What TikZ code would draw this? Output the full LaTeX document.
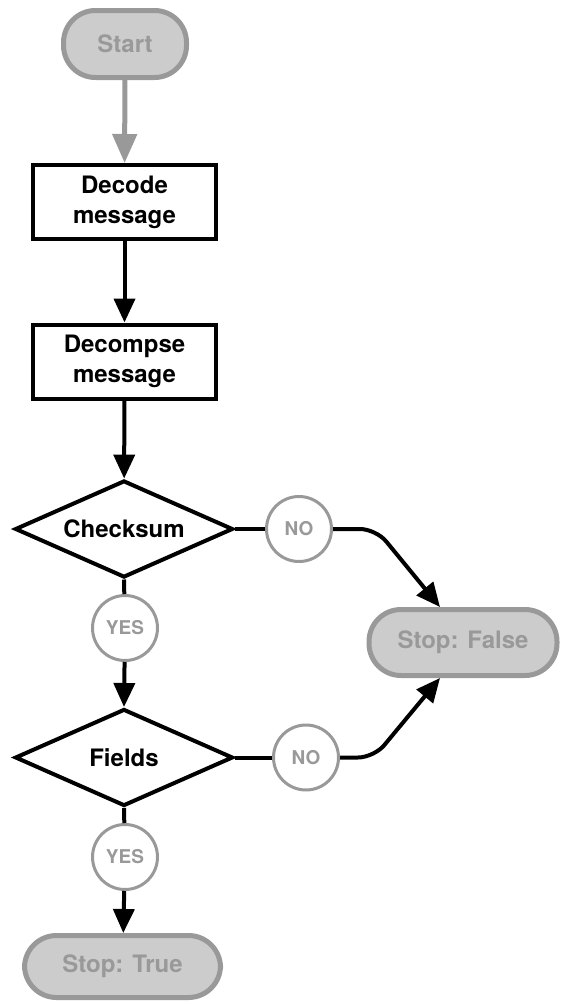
\documentclass[tikz,border=0pt]{standalone}
\usepackage{fontspec}
\setmainfont{TeX Gyre Heros}
\usetikzlibrary{shapes.geometric,arrows.meta,calc}

\definecolor{edgegray}{HTML}{999999}
\definecolor{fillgray}{HTML}{CCCCCC}

\begin{document}
\begin{tikzpicture}[x=1pt,y=-1pt,
  font=\bfseries,
  terminal/.style={draw=edgegray, fill=fillgray, line width=5pt,
    text=edgegray, rounded corners=32pt, inner sep=0pt,
    font=\fontsize{24}{29}\selectfont\bfseries},
  process/.style={draw=black, fill=white, line width=4pt, inner sep=0pt,
    minimum width=183pt, minimum height=74pt, align=center,
    font=\fontsize{24}{30}\selectfont\bfseries},
  decision/.style={draw=black, fill=white, diamond, line width=4pt,
    inner sep=0pt, aspect=2.25, minimum width=218pt, minimum height=97pt,
    font=\fontsize{24}{30}\selectfont\bfseries},
  answer/.style={circle, draw=edgegray, fill=white, line width=3pt,
    text=edgegray, inner sep=0pt, minimum size=65pt,
    font=\fontsize{19}{22}\selectfont\bfseries},
  flow/.style={line width=4pt, draw=black},
  flowarrow/.style={flow, -{Triangle[length=24pt,width=21pt]}},
  startarrow/.style={line width=5pt, draw=edgegray,
    -{Triangle[length=29pt,width=24pt]}},
]
\useasboundingbox (0,0) rectangle (563,1004);

% nodes
\node[terminal, minimum width=123pt, minimum height=67pt] (start) at (125,44) {Start};
\node[process] (decode) at (124.5,202) {Decode\\message};
\node[process] (decompose) at (124.5,361.5) {Decompse\\message};
\node[decision] (checksum) at (124,529) {Checksum};
\node[answer] (no1) at (299,529) {NO};
\node[answer] (yes1) at (125,628) {YES};
\node[decision] (fields) at (124,757.5) {Fields};
\node[answer] (no2) at (306,757.5) {NO};
\node[answer] (yes2) at (125,857) {YES};
\node[terminal, minimum width=188pt, minimum height=66pt] (stopfalse) at (463,642.5) {Stop: False};
\node[terminal, minimum width=196pt, minimum height=62pt] (stoptrue) at (122.5,966.5) {Stop: True};

% connectors
\draw[startarrow] (start) -- (decode);
\draw[flowarrow] (decode) -- (decompose);
\draw[flowarrow] (decompose) -- (checksum);
\draw[flow] (checksum.east) -- (no1);
\draw[flow] (checksum.south) -- (yes1);
\draw[flowarrow] (yes1) -- (fields.north);
\draw[flow] (fields.east) -- (no2);
\draw[flow] (fields.south) -- (yes2);
\draw[flowarrow] (yes2) -- (stoptrue);
\draw[flowarrow, rounded corners=16pt] (no1.east) -- ++(43,0)
  -- ($(stopfalse.north)+(-23,0)$);
\draw[flowarrow, rounded corners=16pt] (no2.east) -- ++(34,0)
  -- ($(stopfalse.south)+(-23,0)$);
\end{tikzpicture}
\end{document}
